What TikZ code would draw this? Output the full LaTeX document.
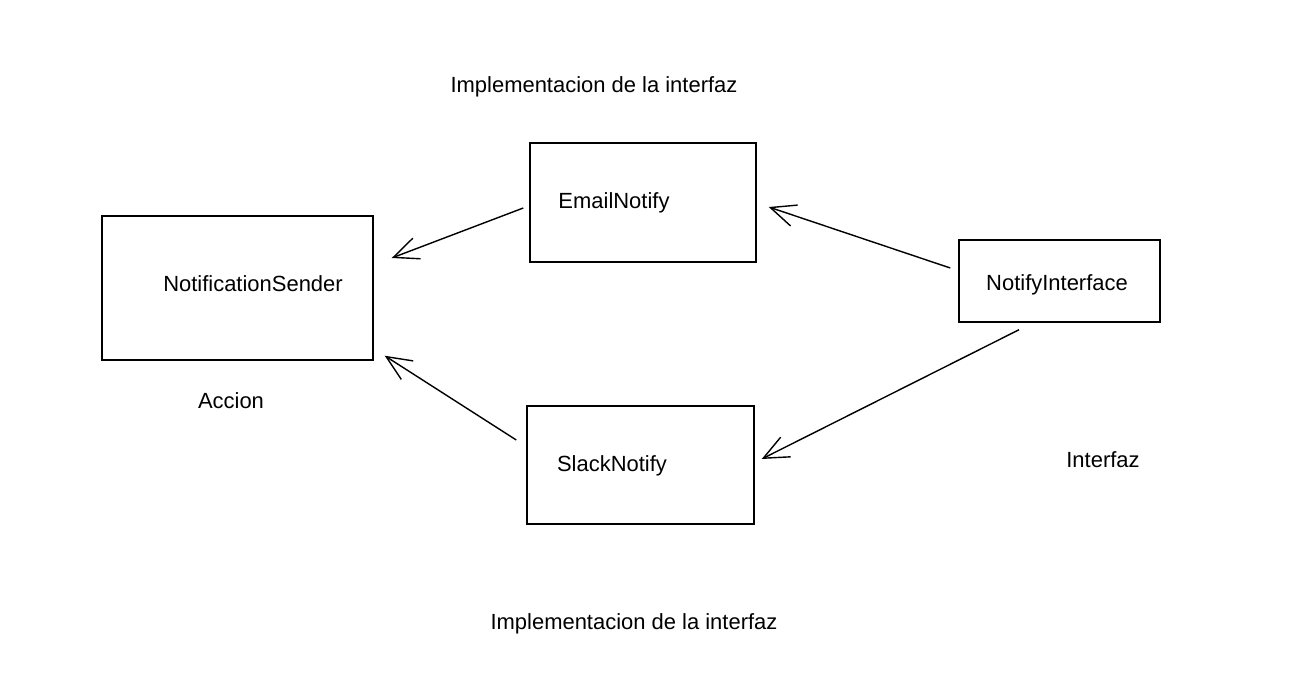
\documentclass[tikz,border=0pt]{standalone}
\usepackage{fontspec}
\setmainfont{Liberation Sans}
\usepackage{tikz}
\usetikzlibrary{arrows.meta, calc}

\begin{document}
\begin{tikzpicture}[x=0.02cm, y=-0.02cm, >={Straight Barb[length=0.5cm, width=0.44cm]},
  box/.style={draw, line width=0.85pt, inner sep=0pt},
  txt/.style={font=\fontsize{12.5}{14}\selectfont},
  link/.style={->, line width=0.8pt}]
  \useasboundingbox (0,0) rectangle (1303,676);

  % boxes
  \node[box, minimum width=5.42cm, minimum height=2.88cm] (sender) at (237.5,288) {};
  \node[box, minimum width=4.52cm, minimum height=2.38cm] (email) at (643,202.5) {};
  \node[box, minimum width=4.02cm, minimum height=1.64cm] (iface) at (1059.5,281) {};
  \node[box, minimum width=4.54cm, minimum height=2.36cm] (slack) at (640.5,465) {};

  % texts
  \node[txt] (senderlbl) at (253,284) {NotificationSender};
  \node[txt] (emaillbl) at (614,203) {EmailNotify};
  \node[txt] (ifacelbl) at (1057,285) {NotifyInterface};
  \node[txt] (slacklbl) at (612,466) {SlackNotify};
  \node[txt] (topnote) at (594,87) {Implementacion de la interfaz};
  \node[txt] (botnote) at (634,624) {Implementacion de la interfaz};
  \node[txt] (accion) at (231,401) {Accion};
  \node[txt] (interfaz) at (1103,460) {Interfaz};

  % arrows
  \draw[link] ($(email.west)+(-6,5.5)$) -- ($(sender.east)+(18,-30)$);
  \draw[link] ($(slack.west)+(-10,-25)$) -- ($(sender.south east)+(11,-5)$);
  \draw[link] ($(iface.west)+(-8,-13)$) -- ($(email.east)+(12,4.5)$);
  \draw[link] ($(iface.south)+(-40.5,7)$) -- ($(slack.east)+(7,-6)$);
\end{tikzpicture}
\end{document}
